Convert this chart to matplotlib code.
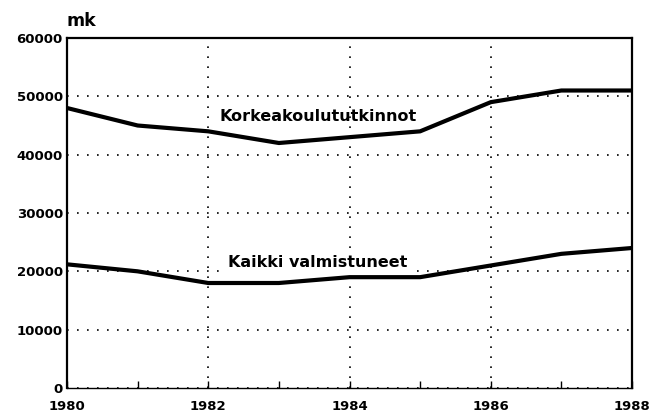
import numpy as np
from matplotlib import pyplot as plt

years = [1980, 1981, 1982, 1983, 1984, 1985, 1986, 1987, 1988]
korkeakoulu = [48000, 45000, 44000, 42000, 43000, 44000, 49000, 51000, 51000]
kaikki = [21200, 20000, 18000, 18000, 19000, 19000, 21000, 23000, 24000]

x_ticks = [1980, 1982, 1984, 1986, 1988]
y_ticks = [0, 10000, 20000, 30000, 40000, 50000, 60000]

plt.rcParams['font.family'] = ['DejaVu Sans']
plt.rcParams['font.weight'] = 'bold'

fig = plt.figure(figsize=(6.49, 4.18), dpi=100)
ax = fig.add_axes([67 / 649, 1 - 388 / 418, (632 - 67) / 649, (388 - 38) / 418])

ax.plot(years, korkeakoulu, color='black', linewidth=3, solid_joinstyle='round')
ax.plot(years, kaikki, color='black', linewidth=3, solid_joinstyle='round')

ax.set_xlim(1980, 1988)
ax.set_ylim(0, 60000)
ax.set_xticks(x_ticks)
ax.set_xticks(years, minor=True)
ax.set_yticks(y_ticks)
ax.set_xticklabels([str(y) for y in x_ticks], fontsize=9.5, fontweight='bold')
ax.set_yticklabels([str(v) for v in y_ticks], fontsize=9.5, fontweight='bold')

ax.grid(True, which='major', color='black', linestyle=(0, (1, 5)), linewidth=1.2)
ax.tick_params(axis='x', which='both', direction='in', length=5, width=1, pad=9)
ax.tick_params(axis='y', length=0, pad=3)

for side in ['left', 'right', 'top']:
    ax.spines[side].set_linewidth(1.6)
ax.spines['bottom'].set_linewidth(1.0)

ax.text(1983.55, 46500, 'Korkeakoulututkinnot', ha='center', va='center',
    fontsize=11.5, fontweight='bold')
ax.text(1983.55, 21500, 'Kaikki valmistuneet', ha='center', va='center',
    fontsize=11.5, fontweight='bold',
    bbox=dict(facecolor='white', edgecolor='none', pad=1))

fig.text(66 / 649, 1 - 21 / 418, 'mk', ha='left', va='center',
    fontsize=12.5, fontweight='bold')

fig.savefig('out.png', dpi=100)
